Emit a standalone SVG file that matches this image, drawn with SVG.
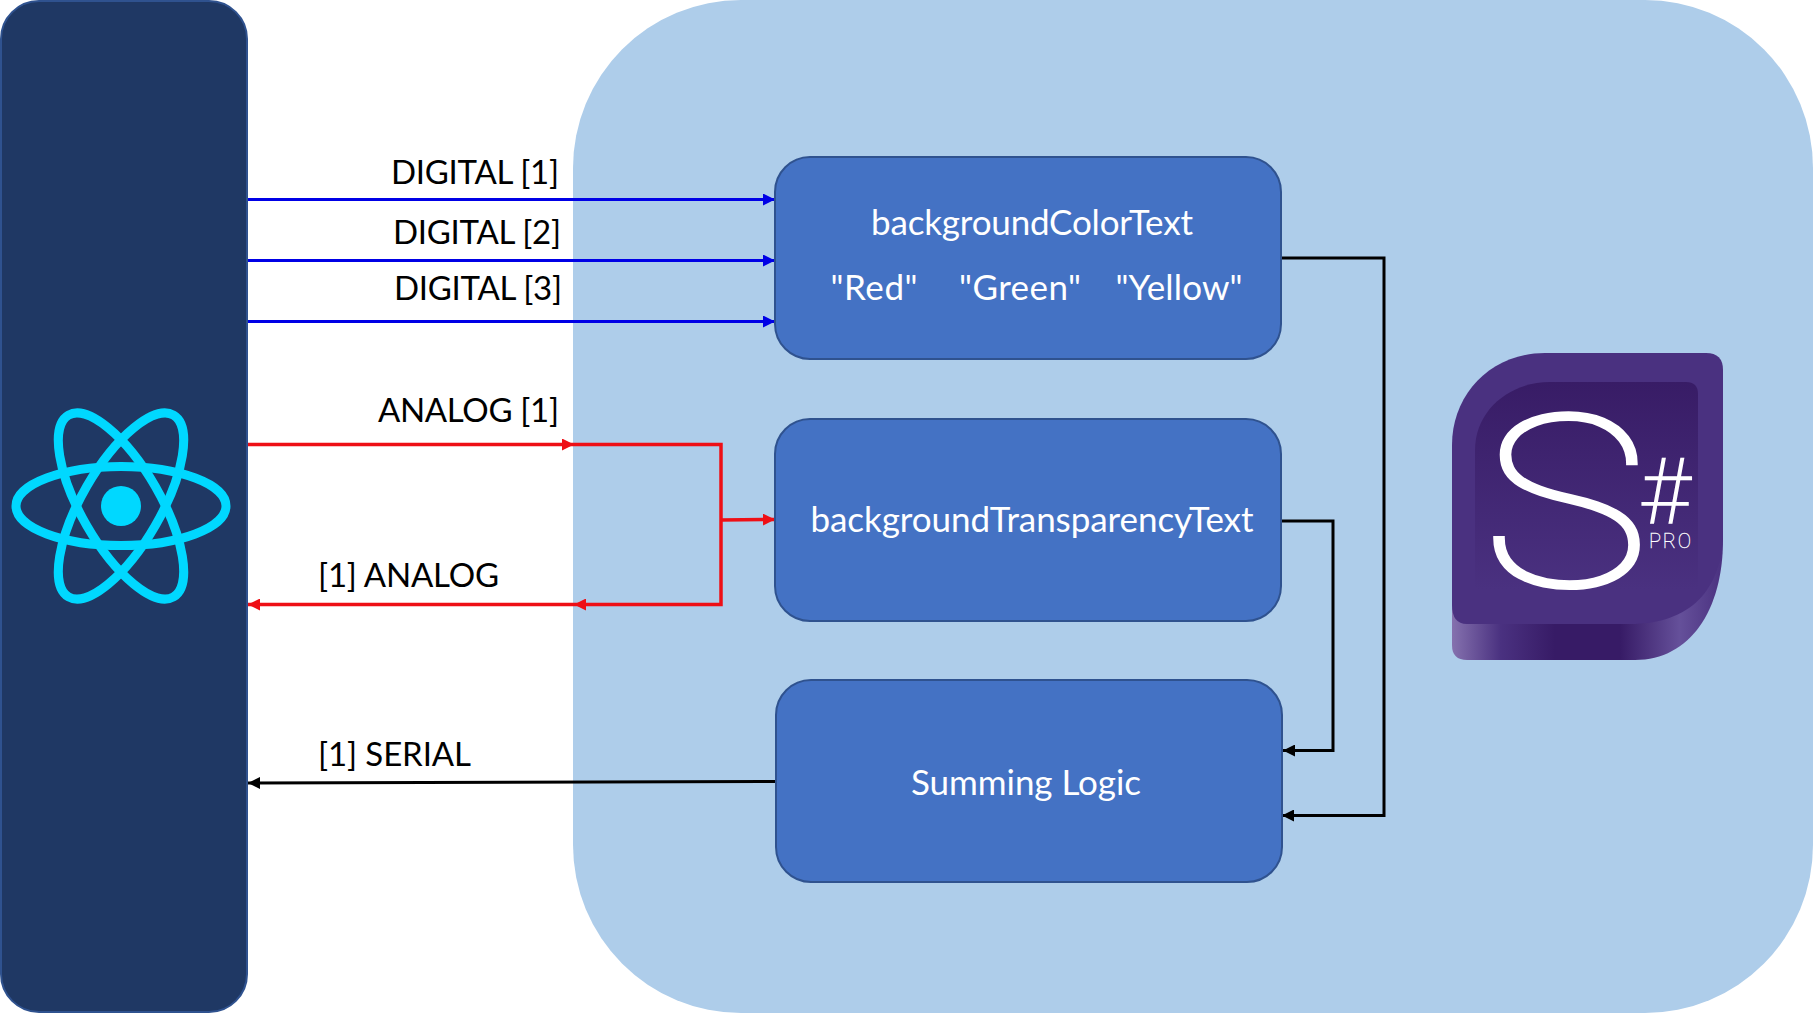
<svg xmlns="http://www.w3.org/2000/svg" width="1813" height="1013" viewBox="0 0 1813 1013">
<style>
text{font-family:"Lato","Open Sans","Liberation Sans",sans-serif;font-size:33px}
.l{fill:#000}
.w{fill:#fff;text-anchor:middle;font-size:35px}
.box{fill:#4472c4;stroke:#2f528f;stroke-width:2}
.c{fill:none;stroke-width:3}
.b{stroke:#0000e6}.r{stroke:#ee0f16;stroke-width:3.500}.k{stroke:#000}
.logo{font-family:"Roboto","Lato",sans-serif;font-weight:100;fill:#fff;stroke:#fff}
</style>
<defs>
<marker id="ab" markerUnits="userSpaceOnUse" markerWidth="12" markerHeight="12" refX="12" refY="6" orient="auto"><path d="M0,0L12,6L0,12Z" fill="#0000e6"/></marker>
<marker id="ar" markerUnits="userSpaceOnUse" markerWidth="12" markerHeight="12" refX="12" refY="6" orient="auto"><path d="M0,0L12,6L0,12Z" fill="#ee0f16"/></marker>
<marker id="ak" markerUnits="userSpaceOnUse" markerWidth="12" markerHeight="12" refX="12" refY="6" orient="auto"><path d="M0,0L12,6L0,12Z" fill="#000"/></marker>
<linearGradient id="inner" x1="0" y1="0" x2="0" y2="1"><stop offset="0" stop-color="#381c66"/><stop offset="1" stop-color="#4a3180"/></linearGradient>
<linearGradient id="side" x1="0" y1="0" x2="1" y2="0"><stop offset="0" stop-color="#8571ae"/><stop offset=".18" stop-color="#4a3180"/><stop offset=".38" stop-color="#371b66"/><stop offset=".62" stop-color="#371b66"/><stop offset=".84" stop-color="#65509a"/><stop offset="1" stop-color="#4a3180"/></linearGradient>
</defs>
<g id="sharp-panel"><rect x="573" y="0" width="1240" height="1013" rx="168" fill="#aecdea"/></g>
<g id="react-panel">
<rect x="1" y="1" width="246" height="1011" rx="38" fill="#1f3864" stroke="#2f528f" stroke-width="2"/>
<g fill="none" stroke="#00d8ff" stroke-width="9">
<ellipse cx="121" cy="506" rx="105" ry="39.5"/>
<ellipse cx="121" cy="506" rx="105" ry="39.5" transform="rotate(60 121 506)"/>
<ellipse cx="121" cy="506" rx="105" ry="39.5" transform="rotate(120 121 506)"/>
</g>
<circle cx="121" cy="506" r="20" fill="#00d8ff"/>
</g>
<g id="connectors">
<path class="c b" d="M248,199.500H775" marker-end="url(#ab)"/>
<path class="c b" d="M248,260.500H775" marker-end="url(#ab)"/>
<path class="c b" d="M248,321.500H775" marker-end="url(#ab)"/>
<path class="c r" d="M248,444.500H574" marker-end="url(#ar)"/>
<path class="c r" d="M574,444.500H721V604.500H574" marker-end="url(#ar)"/>
<path class="c r" d="M574,604.500H248" marker-end="url(#ar)"/>
<path class="c r" d="M721,520L775,519.500" marker-end="url(#ar)"/>
<path class="c k" d="M1282,258H1384V815.500H1282" marker-end="url(#ak)"/>
<path class="c k" d="M1282,521H1333V750.500H1283" marker-end="url(#ak)"/>
<path class="c k" d="M776,781.500L248,783" marker-end="url(#ak)"/>
</g>
<g id="labels">
<text class="l" x="391" y="184" textLength="168">DIGITAL [1]</text>
<text class="l" x="393" y="244" textLength="168">DIGITAL [2]</text>
<text class="l" x="394" y="300" textLength="168">DIGITAL [3]</text>
<text class="l" x="378" y="422" textLength="181">ANALOG [1]</text>
<text class="l" x="318" y="587" textLength="181">[1] ANALOG</text>
<text class="l" x="318" y="766" textLength="153">[1] SERIAL</text>
</g>
<g id="box-color"><rect class="box" x="775" y="157" width="506" height="202" rx="35"/>
<text class="w" x="1032" y="235" textLength="322">backgroundColorText</text>
<text class="w" x="874" y="300" textLength="87">"Red"</text>
<text class="w" x="1020" y="300" textLength="122">"Green"</text>
<text class="w" x="1179" y="300" textLength="127">"Yellow"</text></g>
<g id="box-transparency"><rect class="box" x="775" y="419" width="506" height="202" rx="35"/>
<text class="w" x="1032" y="532" textLength="443">backgroundTransparencyText</text></g>
<g id="box-summing"><rect class="box" x="776" y="680" width="506" height="202" rx="35"/>
<text class="w" x="1026" y="795" textLength="230">Summing Logic</text></g>
<g id="logo">
<path d="M1452,600V645Q1452,660 1467,660H1635C1690,660 1723,610 1723,540V500H1452Z" fill="url(#side)"/>
<path d="M1706,353Q1723,353 1723,370V530C1723,590 1690,624 1630,624H1467Q1452,624 1452,605V445C1452,395 1490,353 1545,353Z" fill="#4a3180"/>
<path d="M1686,382Q1698,382 1698,394V590H1475V450C1475,410 1510,382 1550,382Z" fill="url(#inner)"/>
<text class="logo" transform="translate(1482 586) scale(1.18 1)" style="font-size:240px;stroke-width:3.500">S</text>
<text class="logo" x="1640" y="523" style="font-size:90px;stroke-width:1.500">#</text>
<text class="logo" x="1649" y="548" style="font-size:20px;stroke-width:.3" textLength="42">PRO</text>
</g>
</svg>
